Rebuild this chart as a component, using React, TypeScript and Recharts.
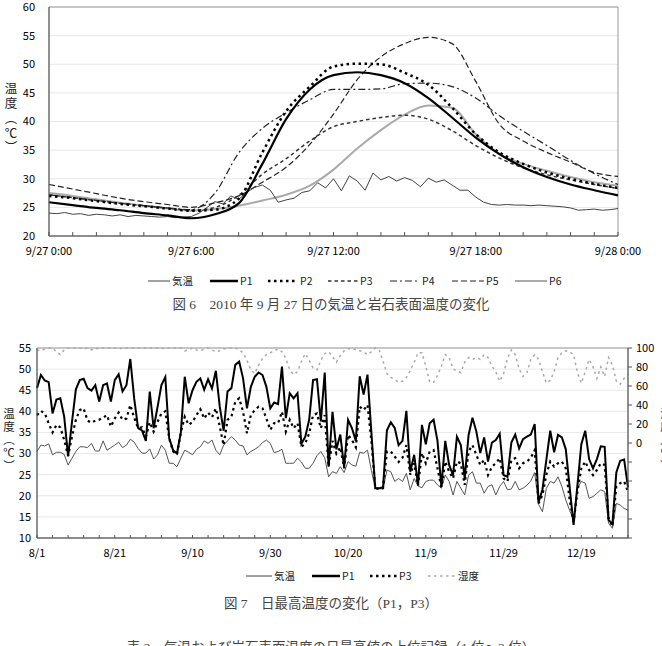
import React from "react";
import { LineChart, Line, XAxis, YAxis, CartesianGrid, ReferenceArea } from "recharts";

const FONT = '"Noto Sans CJK JP", "Noto Sans", sans-serif';
const CAPTION_FONT = '"Liberation Serif", "Noto Sans CJK JP", serif';

// ---------------- Figure 6 : 2010/9/27 ----------------
const hourTicks = [0, 1, 2, 3, 4, 5, 6, 7, 8, 9, 10, 11, 12, 13, 14, 15, 16, 17, 18, 19, 20, 21, 22, 23, 24];
const hourLabels: Record<number, string> = { 0: "9/27 0:00", 6: "9/27 6:00", 12: "9/27 12:00", 18: "9/27 18:00", 24: "9/28 0:00" };
const fig6YTicks = [20, 25, 30, 35, 40, 45, 50, 55, 60];

// air temperature, every 20 minutes (0:00 .. 24:00)
const airTemp20min = [
  24.0, 23.9, 24.1, 23.8, 23.9, 23.6, 23.8, 23.7, 23.5, 23.7, 23.4, 23.6,
  23.5, 23.4, 23.3, 23.4, 23.2, 23.3, 23.4, 24.0, 25.0, 26.0, 25.6, 27.0,
  26.4, 27.6, 28.5, 28.9, 28.0, 25.9, 26.3, 26.6, 27.6, 27.9, 29.3, 28.4,
  30.0, 27.9, 30.5, 29.6, 28.0, 31.0, 29.8, 30.4, 29.6, 30.2, 29.7, 28.6,
  30.1, 29.4, 29.8, 28.9, 28.0, 28.0, 26.8, 25.9, 25.5, 25.4, 25.5, 25.4,
  25.4, 25.3, 25.4, 25.3, 25.2, 25.1, 24.9, 24.5, 24.6, 24.7, 24.5, 24.6, 24.8,
];
// rock surface temperatures, hourly (0:00 .. 24:00)
const p1Hourly = [25.9, 25.4, 24.9, 24.5, 24.0, 23.6, 23.1, 23.8, 25.7, 32.6, 40.4, 45.6, 48.1, 48.6, 48.1, 46.7, 44.1, 40.7, 37.2, 34.3, 32.0, 30.3, 29.0, 28.0, 27.1];
const p2Hourly = [27.0, 26.6, 26.1, 25.6, 25.2, 24.8, 24.4, 24.6, 26.5, 34.6, 41.8, 46.1, 49.6, 50.1, 50.0, 48.5, 46.4, 42.4, 37.8, 34.6, 32.6, 31.1, 30.0, 29.1, 28.4];
const p3Hourly = [27.2, 26.7, 26.2, 25.7, 25.3, 24.9, 24.5, 25.0, 27.1, 30.8, 33.5, 36.6, 39.1, 40.0, 40.7, 41.1, 40.4, 38.4, 35.8, 33.6, 31.9, 30.7, 29.8, 29.0, 28.3];
const p4Hourly = [27.2, 26.7, 26.2, 25.7, 25.3, 24.9, 24.6, 27.5, 34.5, 38.8, 41.5, 43.8, 45.6, 45.6, 45.7, 46.6, 46.7, 46.1, 44.1, 41.0, 38.3, 35.8, 33.2, 30.9, 29.0];
const p5Hourly = [29.0, 28.2, 27.4, 26.6, 26.0, 25.5, 25.0, 25.8, 27.0, 29.4, 32.0, 36.0, 41.3, 47.3, 51.3, 53.6, 54.7, 53.6, 47.0, 39.5, 36.6, 34.6, 32.9, 31.1, 30.4];
const p6Hourly = [27.5, 27.0, 26.4, 25.8, 25.3, 24.8, 24.4, 24.7, 25.3, 26.2, 27.2, 28.8, 31.6, 35.3, 38.5, 41.2, 42.8, 42.4, 37.8, 34.3, 32.6, 31.4, 30.3, 29.4, 28.8];

const fig6Rows = airTemp20min.map((v, i) => {
  const row: any = { t: i / 3, air: v };
  if (i % 3 === 0) {
    const h = i / 3;
    row.p1 = p1Hourly[h];
    row.p2 = p2Hourly[h];
    row.p3 = p3Hourly[h];
    row.p4 = p4Hourly[h];
    row.p5 = p5Hourly[h];
    row.p6 = p6Hourly[h];
  }
  return row;
});

// ---------------- Figure 7 : daily maxima 8/1 .. 12/31 ----------------
const dateLabels = ["8/1", "8/21", "9/10", "9/30", "10/20", "11/9", "11/29", "12/19"];
const fig7YTicks = [10, 15, 20, 25, 30, 35, 40, 45, 50, 55];
const humTicks = [-100, -80, -60, -40, -20, 0, 20, 40, 60, 80, 100];

const p1Daily = [
  45.5, 48.6, 47.3, 46.9, 39.5, 42.8, 43.1, 38.7, 29.3, 37.5,
  45.2, 47.4, 47.7, 45.5, 44.9, 46.2, 42.3, 46.2, 46.6, 42.3,
  47.4, 48.8, 44.7, 46.2, 52.4, 43.0, 36.0, 35.5, 33.0, 44.7,
  36.0, 41.0, 46.2, 48.1, 33.6, 30.8, 30.0, 35.0, 48.2, 41.9,
  45.0, 47.0, 47.8, 45.1, 47.6, 45.4, 49.6, 41.1, 35.4, 44.7,
  45.5, 51.0, 51.8, 47.8, 40.7, 45.8, 48.2, 49.2, 48.6, 45.8,
  40.7, 42.1, 41.7, 50.6, 38.4, 44.3, 43.1, 44.3, 32.3, 34.0,
  38.0, 47.4, 47.6, 37.6, 49.2, 26.9, 39.9, 31.0, 34.5, 26.7,
  38.0, 36.0, 33.0, 48.3, 44.0, 48.7, 35.0, 21.8, 21.8, 22.0,
  35.5, 37.4, 36.1, 32.0, 33.0, 40.1, 25.7, 29.7, 22.6, 36.8,
  32.2, 37.2, 38.0, 33.0, 22.2, 33.0, 27.3, 24.9, 34.0, 32.0,
  24.1, 34.4, 38.5, 35.2, 30.1, 33.8, 28.1, 32.6, 33.2, 34.7,
  24.9, 24.5, 32.6, 34.5, 31.2, 33.4, 34.0, 34.5, 37.0, 18.5,
  21.5, 28.5, 35.4, 30.3, 34.4, 33.8, 31.0, 22.0, 13.1, 22.5,
  32.2, 35.4, 28.7, 26.5, 28.7, 31.7, 31.6, 14.3, 13.3, 25.5,
  28.3, 28.6, 22.0,
];
const p3Daily = [
  39.1, 40.1, 39.5, 37.2, 35.0, 36.8, 36.2, 33.2, 29.5, 34.0,
  38.0, 40.3, 40.7, 37.8, 37.3, 37.8, 38.0, 38.5, 39.1, 36.4,
  38.3, 39.7, 38.0, 38.3, 41.5, 38.5, 36.0, 36.2, 34.0, 37.4,
  35.2, 37.5, 39.5, 40.0, 33.6, 30.5, 29.8, 35.0, 38.7, 36.8,
  37.5, 39.1, 40.5, 38.3, 39.7, 38.6, 40.7, 36.4, 32.0, 38.0,
  38.7, 42.3, 43.1, 39.9, 34.8, 39.1, 40.3, 41.1, 40.7, 38.3,
  35.6, 37.2, 37.2, 39.9, 35.2, 38.0, 36.0, 37.2, 31.6, 32.4,
  34.8, 39.1, 39.5, 36.0, 39.1, 26.9, 33.0, 30.0, 31.5, 26.5,
  34.4, 33.2, 31.5, 41.1, 40.3, 41.5, 33.0, 21.8, 21.6, 21.8,
  30.5, 30.5, 29.3, 28.0, 29.0, 32.0, 25.0, 27.7, 22.4, 30.1,
  27.7, 30.5, 30.8, 26.5, 22.0, 28.1, 25.7, 24.1, 28.1, 27.7,
  22.6, 30.5, 32.0, 29.7, 27.3, 28.5, 24.9, 26.9, 27.7, 28.9,
  24.1, 23.4, 28.5, 28.9, 26.5, 27.7, 28.1, 29.0, 30.8, 18.2,
  20.2, 25.0, 28.1, 26.9, 27.7, 28.1, 26.5, 19.0, 13.8, 21.0,
  26.5, 28.1, 26.1, 24.9, 26.1, 27.7, 27.3, 14.7, 12.8, 22.2,
  23.0, 23.4, 21.0,
];
const airDaily = [
  30.5, 32.0, 31.8, 32.3, 29.7, 30.3, 30.3, 29.8, 27.3, 28.9,
  30.5, 31.6, 31.6, 31.4, 32.4, 30.6, 30.6, 33.0, 30.8, 31.4,
  32.0, 32.7, 31.4, 32.0, 33.4, 32.7, 31.2, 30.1, 30.1, 31.1,
  28.7, 29.7, 32.0, 30.8, 27.7, 27.7, 26.9, 28.9, 30.8, 30.3,
  29.7, 31.0, 31.6, 33.0, 32.4, 33.2, 30.8, 29.7, 32.0, 33.0,
  34.0, 33.2, 32.0, 31.8, 29.7, 30.5, 31.0, 31.6, 32.6, 33.2,
  32.4, 30.2, 30.5, 31.0, 27.7, 27.7, 27.7, 28.9, 28.0, 26.5,
  26.5, 27.7, 29.5, 30.5, 29.0, 24.5, 25.7, 25.3, 26.9, 25.5,
  28.1, 27.3, 27.0, 30.3, 30.1, 30.8, 26.0, 21.8, 21.7, 21.6,
  26.1, 25.7, 23.4, 24.1, 23.4, 25.3, 21.4, 24.1, 22.3, 21.9,
  23.4, 23.7, 23.7, 22.6, 21.8, 24.9, 23.4, 20.2, 23.4, 21.8,
  20.2, 24.9, 25.7, 23.0, 23.0, 20.6, 22.2, 22.6, 20.2, 22.2,
  23.4, 21.4, 21.6, 23.4, 21.4, 21.8, 22.5, 23.5, 25.5, 18.0,
  16.2, 21.8, 23.4, 23.0, 24.5, 22.2, 19.0, 16.5, 14.3, 21.8,
  23.4, 23.0, 19.4, 19.8, 20.6, 21.4, 21.0, 13.5, 12.3, 18.2,
  17.8, 17.0, 16.6,
];
const humidityDaily = [
  98, 97, 99, 100, 100, 96, 93, 98, 100, 100,
  100, 100, 99, 100, 98, 100, 99, 100, 100, 100,
  100, 99, 100, 100, 100, 100, 100, 100, 100, 100,
  100, 100, 100, 99, 100, 100, 100, 100, 97, 98,
  100, 98, 97, 99, 100, 98, 96, 97, 99, 100,
  100, 100, 98, 95, 87, 77, 73, 82, 89, 93,
  95, 97, 99, 96, 89, 77, 72, 75, 86, 94,
  87, 79, 77, 87, 94, 96, 91, 85, 92, 97,
  99, 100, 98, 97, 96, 93, 96, 100, 98, 86,
  73, 69, 67, 64, 65, 69, 76, 85, 95, 95,
  81, 64, 64, 71, 81, 93, 90, 78, 76, 74,
  85, 90, 88, 90, 88, 93, 90, 81, 75, 65,
  73, 89, 98, 93, 78, 70, 74, 88, 93, 88,
  75, 63, 66, 75, 90, 95, 97, 96, 93, 74,
  63, 75, 88, 80, 68, 80, 70, 90, 82, 65,
  62, 68, 72,
];

const fig7Rows = p1Daily.map((v, d) => ({ d, p1: v, p3: p3Daily[d], air: airDaily[d], hum: humidityDaily[d] }));
const dayTicks = p1Daily.map((_, d) => d).filter((d) => d % 4 === 0);

// ---------------- helpers ----------------
const tickStyle = { fontSize: 11, fill: "#000", fontFamily: FONT };

function VerticalTitle({ chars, x, y0, step, size }: { chars: string[]; x: number; y0: number; step: number; size: number }) {
  const h = step * chars.length + size;
  const top = y0 - step / 2 - size / 2;
  return (
    <svg width={24} height={h} style={{ position: "absolute", left: x - 12, top, overflow: "visible" }}>
      {chars.map((c, i) => (
        <text
          key={i}
          x={12}
          y={size / 2 + step / 2 + i * step}
          textAnchor="middle"
          dominantBaseline="central"
          fontSize={size}
          fontFamily={FONT}
          fill="#222"
        >
          {c}
        </text>
      ))}
    </svg>
  );
}

type LegendItem = { label: string; x: number; len: number; stroke: string; width: number; dash?: string };

function LegendRow({ items, top }: { items: LegendItem[]; top: number }) {
  return (
    <svg width={662} height={16} style={{ position: "absolute", left: 0, top }}>
      {items.map((it, i) => (
        <g key={i}>
          <line x1={it.x} x2={it.x + it.len} y1={8} y2={8} stroke={it.stroke} strokeWidth={it.width} strokeDasharray={it.dash} />
          <text x={it.x + it.len + 2} y={12} fontSize={10.5} fontFamily={FONT} fill="#222">
            {it.label}
          </text>
        </g>
      ))}
    </svg>
  );
}

const fig6Legend: LegendItem[] = [
  { label: "気温", x: 148, len: 22, stroke: "#444", width: 1 },
  { label: "P1", x: 210, len: 28, stroke: "#000", width: 2.5 },
  { label: "P2", x: 268, len: 30, stroke: "#000", width: 2.5, dash: "2.5 3.5" },
  { label: "P3", x: 328, len: 30, stroke: "#333", width: 1.5, dash: "3.5 3" },
  { label: "P4", x: 390, len: 30, stroke: "#222", width: 1.2, dash: "7 3 2 3" },
  { label: "P5", x: 452, len: 32, stroke: "#222", width: 1.2, dash: "6 3" },
  { label: "P6", x: 515, len: 32, stroke: "#aaa", width: 2 },
];
const fig7Legend: LegendItem[] = [
  { label: "気温", x: 246, len: 26, stroke: "#444", width: 1 },
  { label: "P1", x: 312, len: 28, stroke: "#000", width: 2.5 },
  { label: "P3", x: 370, len: 27, stroke: "#000", width: 2.5, dash: "2.5 3.5" },
  { label: "湿度", x: 428, len: 28, stroke: "#aaa", width: 1.5, dash: "2.5 3.5" },
];

const captionStyle: React.CSSProperties = {
  position: "absolute",
  left: 0,
  width: 662,
  textAlign: "center",
  fontSize: 13.5,
  fontFamily: CAPTION_FONT,
  color: "#444",
  whiteSpace: "pre",
};

export default function App() {
  return (
    <div style={{ position: "absolute", left: 0, top: 0, width: 662, height: 646, background: "#fff", overflow: "hidden" }}>
      {/* -------- Figure 6 -------- */}
      <div style={{ position: "absolute", left: 0, top: 0 }}>
        <LineChart width={662} height={261} data={fig6Rows} margin={{ top: 7, right: 44, bottom: 0, left: 0 }}>
          <CartesianGrid vertical={false} stroke="#e8e8e8" />
          <XAxis
            dataKey="t"
            type="number"
            domain={[0, 24]}
            ticks={hourTicks}
            interval={0}
            tickFormatter={(v: number) => hourLabels[v] ?? ""}
            tickSize={-4}
            tickMargin={15}
            height={25}
            stroke="#555"
            tick={tickStyle}
          />
          <YAxis
            domain={[20, 60]}
            ticks={fig6YTicks}
            interval={0}
            width={49}
            tickLine={false}
            tickSize={0}
            tickMargin={14}
            stroke="#555"
            tick={tickStyle}
          />
          <ReferenceArea x1={0} x2={24} y1={20} y2={60} fill="none" stroke="#999" strokeWidth={1} />
          <Line dataKey="p6" type="monotone" stroke="#aaa" strokeWidth={2} dot={false} connectNulls isAnimationActive={false} />
          <Line dataKey="air" type="linear" stroke="#444" strokeWidth={1} dot={false} isAnimationActive={false} />
          <Line dataKey="p5" type="monotone" stroke="#222" strokeWidth={1.2} strokeDasharray="6 3" dot={false} connectNulls isAnimationActive={false} />
          <Line dataKey="p4" type="monotone" stroke="#222" strokeWidth={1.2} strokeDasharray="7 3 2 3" dot={false} connectNulls isAnimationActive={false} />
          <Line dataKey="p3" type="monotone" stroke="#333" strokeWidth={1.5} strokeDasharray="3.5 3" dot={false} connectNulls isAnimationActive={false} />
          <Line dataKey="p2" type="monotone" stroke="#000" strokeWidth={2.5} strokeDasharray="2.5 3.5" dot={false} connectNulls isAnimationActive={false} />
          <Line dataKey="p1" type="monotone" stroke="#000" strokeWidth={2.2} dot={false} connectNulls isAnimationActive={false} />
        </LineChart>
      </div>
      <VerticalTitle chars={["温", "度", "︵", "℃", "︶"]} x={11} y0={88} step={14.8} size={12.5} />
      <LegendRow items={fig6Legend} top={273} />
      <div style={{ ...captionStyle, top: 293 }}>{"図 6　2010 年 9 月 27 日の気温と岩石表面温度の変化"}</div>

      {/* -------- Figure 7 -------- */}
      <div style={{ position: "absolute", left: 0, top: 330 }}>
        <LineChart width={662} height={233} data={fig7Rows} margin={{ top: 18, right: 0, bottom: 0, left: 0 }}>
          <CartesianGrid vertical={false} yAxisId="left" stroke="#e8e8e8" />
          <XAxis
            dataKey="d"
            type="number"
            domain={[0, 152]}
            ticks={dayTicks}
            interval={0}
            tickFormatter={(v: number) => (v % 20 === 0 ? dateLabels[v / 20] ?? "" : "")}
            tickSize={-3}
            tickMargin={14}
            height={25}
            stroke="#555"
            tick={tickStyle}
          />
          <YAxis
            yAxisId="left"
            domain={[10, 55]}
            ticks={fig7YTicks}
            interval={0}
            width={37}
            tickLine={false}
            tickSize={0}
            tickMargin={6}
            stroke="#555"
            tick={tickStyle}
          />
          <YAxis
            yAxisId="right"
            orientation="right"
            domain={[-100, 100]}
            ticks={humTicks}
            interval={0}
            width={34}
            tickSize={4}
            tickMargin={4}
            tickFormatter={(v: number) => (v >= 0 ? String(v) : "")}
            stroke="#555"
            tick={{ ...tickStyle, textAnchor: "start" }}
          />
          <ReferenceArea yAxisId="left" x1={0} x2={152} y1={10} y2={55} fill="none" stroke="#999" strokeWidth={1} />
          <Line yAxisId="right" dataKey="hum" type="linear" stroke="#aaa" strokeWidth={1.5} strokeDasharray="2.5 3.5" dot={false} isAnimationActive={false} />
          <Line yAxisId="left" dataKey="air" type="linear" stroke="#555" strokeWidth={1} dot={false} isAnimationActive={false} />
          <Line yAxisId="left" dataKey="p3" type="linear" stroke="#000" strokeWidth={2.2} strokeDasharray="2.5 3.5" dot={false} isAnimationActive={false} />
          <Line yAxisId="left" dataKey="p1" type="linear" stroke="#000" strokeWidth={2} dot={false} isAnimationActive={false} />
        </LineChart>
      </div>
      <VerticalTitle chars={["温", "度", "︵", "℃", "︶"]} x={9} y0={413} step={13} size={11.5} />
      <VerticalTitle chars={["湿", "度", "︵", "%", "︶"]} x={666} y0={413} step={13} size={11.5} />
      <LegendRow items={fig7Legend} top={568} />
      <div style={{ ...captionStyle, top: 592 }}>{"図 7　日最高温度の変化（P1，P3）"}</div>
      <div style={{ ...captionStyle, top: 636 }}>{"表 2　気温および岩石表面温度の日最高値の上位記録（1 位～3 位）"}</div>
    </div>
  );
}
